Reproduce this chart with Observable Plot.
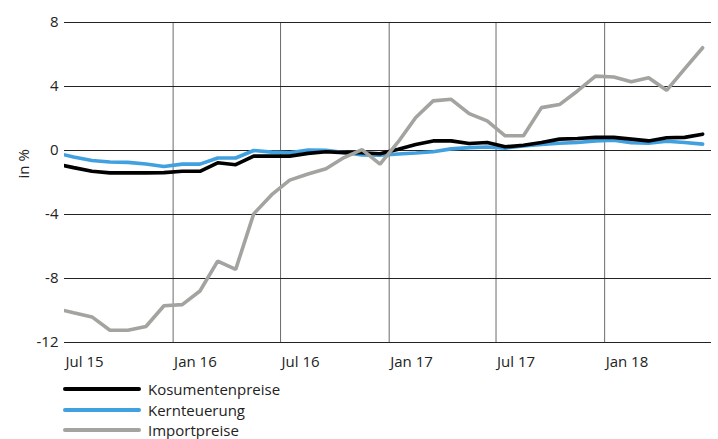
<!DOCTYPE html>
<html>
<head>
<meta charset="utf-8">
<script src="https://cdn.jsdelivr.net/npm/d3@7"></script>
<script src="https://cdn.jsdelivr.net/npm/@observablehq/plot@0.6"></script>
<style>
  html, body { margin: 0; padding: 0; background: #fff; }
  body { font-family: "Open Sans", sans-serif; color: #222; width: 718px; height: 439px; overflow: hidden; }
  #legend { margin-top: 7px; }
  .row { display: flex; align-items: center; height: 20.5px; font-size: 15px; }
  .sw { width: 78px; height: 4px; border-radius: 2px; margin-left: 63px; margin-right: 7px; }
</style>
</head>
<body>
<div id="chart"></div>
<div id="legend"></div>
<script>
// Months (first entry Jun 15 lies just left of the plotted window and is clipped)
const months = [
  "2015-06","2015-07","2015-08","2015-09","2015-10","2015-11","2015-12",
  "2016-01","2016-02","2016-03","2016-04","2016-05","2016-06",
  "2016-07","2016-08","2016-09","2016-10","2016-11","2016-12",
  "2017-01","2017-02","2017-03","2017-04","2017-05","2017-06",
  "2017-07","2017-08","2017-09","2017-10","2017-11","2017-12",
  "2018-01","2018-02","2018-03","2018-04","2018-05","2018-06"
];
const konsumentenpreise = [
  -0.83, -1.07, -1.30, -1.40, -1.40, -1.40, -1.38,
  -1.30, -1.30, -0.77, -0.89, -0.35, -0.35,
  -0.35, -0.18, -0.08, -0.13, -0.14, -0.20,
  0.08, 0.38, 0.60, 0.60, 0.44, 0.50,
  0.23, 0.33, 0.50, 0.71, 0.75, 0.82,
  0.82, 0.71, 0.60, 0.80, 0.82, 1.02
];
const kernteuerung = [
  -0.15, -0.40, -0.62, -0.72, -0.74, -0.84, -1.00,
  -0.85, -0.85, -0.47, -0.47, 0.00, -0.10,
  -0.14, 0.03, 0.02, -0.12, -0.28, -0.30,
  -0.22, -0.16, -0.08, 0.10, 0.18, 0.22,
  0.15, 0.28, 0.38, 0.45, 0.50, 0.60,
  0.65, 0.48, 0.46, 0.58, 0.50, 0.40
];
const importpreise = [
  -9.88, -10.14, -10.40, -11.23, -11.23, -11.00, -9.70,
  -9.63, -8.78, -6.91, -7.43, -3.96, -2.76,
  -1.85, -1.47, -1.14, -0.44, 0.05, -0.85,
  0.55, 2.06, 3.10, 3.20, 2.30, 1.85,
  0.92, 0.92, 2.68, 2.87, 3.72, 4.65,
  4.59, 4.30, 4.55, 3.76, 5.10, 6.42
];
const seriesNames = ["Kosumentenpreise", "Kernteuerung", "Importpreise"];
const seriesColors = ["#000000", "#41a0e0", "#a3a3a0"];
const yTicks = [-12, -8, -4, 0, 4, 8];
const xTickMonths = ["2015-07","2016-01","2016-07","2017-01","2017-07","2018-01"];
const xTickLabels = ["Jul 15","Jan 16","Jul 16","Jan 17","Jul 17","Jan 18"];
const gridMonths = ["2016-01","2016-07","2017-01","2017-07","2018-01"];
const xStart = "2015-07", xEnd = "2018-07";

const parse = s => { const [y, m] = s.split("-").map(Number); return new Date(Date.UTC(y, m - 1, 1)); };
const mid = s => { const a = parse(s); const b = new Date(Date.UTC(a.getUTCFullYear(), a.getUTCMonth() + 1, 1)); return new Date((+a + +b) / 2); };

const allValues = [konsumentenpreise, kernteuerung, importpreise];
const rows = [];
allValues.forEach((vals, k) => months.forEach((m, i) => rows.push({date: mid(m), value: vals[i], series: seriesNames[k]})));

const tickDates = xTickMonths.map(parse);
const labelOf = new Map(tickDates.map((d, i) => [+d, xTickLabels[i]]));

const drawOrder = [1, 0, 2];
const chart = Plot.plot({
  width: 718,
  height: 372,
  marginLeft: 64,
  marginRight: 7,
  marginTop: 22,
  marginBottom: 30,
  style: {fontFamily: "Open Sans", fontSize: "15px", color: "#222", background: "#fff"},
  x: {type: "utc", domain: [parse(xStart), parse(xEnd)], axis: null},
  y: {domain: [-12, 8], axis: null},
  marks: [
    Plot.ruleX(gridMonths.map(parse), {stroke: "#6a6a6a", strokeWidth: 1}),
    Plot.gridY(yTicks, {stroke: "#222", strokeOpacity: 1, strokeWidth: 1}),
    Plot.axisY(yTicks, {tickSize: 0, tickPadding: 6, fontSize: 15, fill: "#222", label: null, tickFormat: d => d < 0 ? "-" + Math.abs(d) : String(d)}),
    Plot.axisX(tickDates, {tickSize: 0, tickPadding: 14, fontSize: 15, fill: "#222", textAnchor: "start", dx: 1, label: null, tickFormat: d => labelOf.get(+d)}),
    Plot.text(["in %"], {frameAnchor: "left", rotate: -90, dx: -40, dy: -4, fontSize: 15, fill: "#222"}),
    ...drawOrder.map(k => Plot.line(rows.filter(r => r.series === seriesNames[k]), {
      x: "date", y: "value", stroke: seriesColors[k], strokeWidth: 3.6, clip: true, strokeLinejoin: "miter"
    }))
  ]
});
document.getElementById("chart").append(chart);

const legend = document.getElementById("legend");
seriesNames.forEach((name, k) => {
  const row = document.createElement("div");
  row.className = "row";
  const sw = document.createElement("div");
  sw.className = "sw";
  sw.style.background = seriesColors[k];
  const lab = document.createElement("span");
  lab.textContent = name;
  row.append(sw, lab);
  legend.append(row);
});
</script>
</body>
</html>
